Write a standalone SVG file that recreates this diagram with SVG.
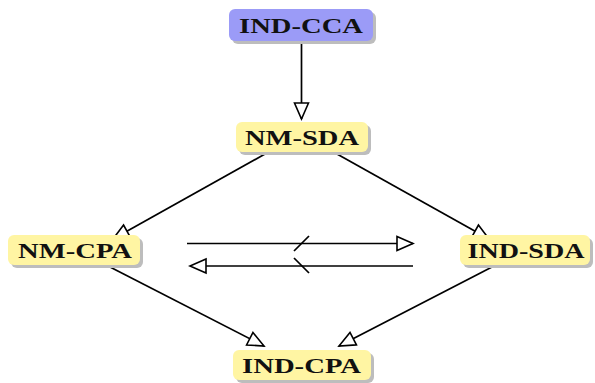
<svg xmlns="http://www.w3.org/2000/svg" width="595" height="383" viewBox="0 0 595 383">
<style>
.shadow{fill:#bdbdbd}
.blue{fill:#9b9bf7}
.yellow{fill:#fff5a3}
.lbl{font-family:"Liberation Serif","DejaVu Serif",serif;font-weight:bold;font-size:22px;fill:#111;text-anchor:middle}
.edge{stroke:#000;stroke-width:1.7;fill:none}
</style>
<defs>
<marker id="tri" viewBox="-18 -9 20 18" refX="0" refY="0" markerWidth="20" markerHeight="18" markerUnits="userSpaceOnUse" orient="auto">
<path d="M -16 -7 L 0 0 L -16 7 Z" fill="#fff" stroke="#000" stroke-width="1.6" stroke-linejoin="miter"/>
</marker>
</defs>
<rect width="595" height="383" fill="#fff"/>
<g id="connectors">
<path class="edge" d="M 301.5 42 L 301.5 119" marker-end="url(#tri)"/>
<path class="edge" d="M 265 154 L 113 239" marker-end="url(#tri)"/>
<path class="edge" d="M 337 154 L 489 239" marker-end="url(#tri)"/>
<path class="edge" d="M 110 267 L 264 346" marker-end="url(#tri)"/>
<path class="edge" d="M 492 267 L 339 346" marker-end="url(#tri)"/>
<path class="edge" d="M 187 243.5 L 413 243.5" marker-end="url(#tri)"/>
<path class="edge" d="M 413 266 L 190 266" marker-end="url(#tri)"/>
<path class="edge" d="M 294 251 L 309 236"/>
<path class="edge" d="M 294 258 L 309 273"/>
</g>
<g id="IND-CCA">
<rect class="shadow" x="232" y="12" width="144" height="32" rx="6"/>
<rect class="blue" x="229" y="9" width="144" height="32" rx="6"/>
<text class="lbl" x="301" y="32.5" textLength="124" lengthAdjust="spacingAndGlyphs">IND-CCA</text>
</g>
<g id="NM-SDA">
<rect class="shadow" x="239" y="125" width="132" height="30" rx="6"/>
<rect class="yellow" x="236" y="122" width="132" height="30" rx="6"/>
<text class="lbl" x="302" y="144.5" textLength="114" lengthAdjust="spacingAndGlyphs">NM-SDA</text>
</g>
<g id="NM-CPA">
<rect class="shadow" x="11" y="238" width="132" height="30" rx="6"/>
<rect class="yellow" x="8" y="235" width="132" height="30" rx="6"/>
<text class="lbl" x="75" y="257.5" textLength="114" lengthAdjust="spacingAndGlyphs">NM-CPA</text>
</g>
<g id="IND-SDA">
<rect class="shadow" x="463" y="238" width="130" height="30" rx="6"/>
<rect class="yellow" x="460" y="235" width="130" height="30" rx="6"/>
<text class="lbl" x="526" y="257.5" textLength="117" lengthAdjust="spacingAndGlyphs">IND-SDA</text>
</g>
<g id="IND-CPA">
<rect class="shadow" x="236" y="353" width="138" height="30" rx="6"/>
<rect class="yellow" x="233" y="350" width="138" height="30" rx="6"/>
<text class="lbl" x="301.5" y="372.5" textLength="119" lengthAdjust="spacingAndGlyphs">IND-CPA</text>
</g>
</svg>
